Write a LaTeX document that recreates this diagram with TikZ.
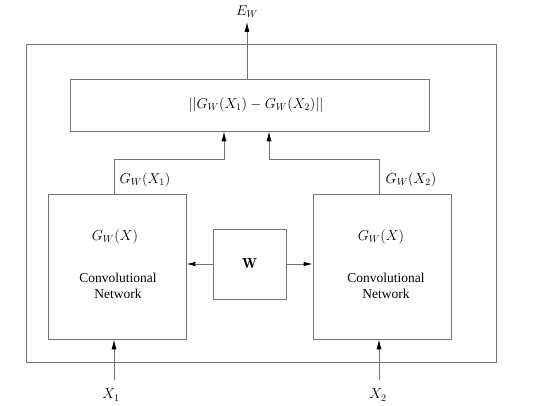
\documentclass[tikz,border=0pt]{standalone}
\usepackage{fontspec}
\newfontfamily\txtfont{Liberation Serif}
\usetikzlibrary{arrows.meta}
\begin{document}
\begin{tikzpicture}[x=1pt,y=-1pt,
  box/.style={draw=black!55,line width=0.8pt,inner sep=0pt},
  conn/.style={draw=black!55,line width=0.8pt},
  arr/.style={conn,-{Latex[length=10pt,width=5pt,color=black]}},
  mth/.style={inner sep=0pt,font=\fontsize{14.5}{17}\selectfont},
  txt/.style={inner sep=0pt,align=center,font=\txtfont\fontsize{13.5}{16.5}\selectfont}]
\useasboundingbox (0,0) rectangle (546,406);
\node[box,minimum width=470pt,minimum height=318pt] (outer) at (261,203) {};
\node[box,minimum width=359pt,minimum height=52pt] (top) at (249.5,105) {};
\node[mth] (topt) at (256,105) {$||G_W(X_1)-G_W(X_2)||$};
\node[box,minimum width=138pt,minimum height=145pt] (lconv) at (117,266.5) {};
\node[box,minimum width=138pt,minimum height=145pt] (rconv) at (382,266.5) {};
\node[box,minimum width=73pt,minimum height=70pt] (wbox) at (249.5,264) {};
\node[mth] (wt) at (249.5,264) {$\mathbf{W}$};
\node[mth] (lg) at (115,237) {$G_W(X)$};
\node[mth] (rg) at (381,237) {$G_W(X)$};
\node[txt] (lt) at (118,286) {Convolutional\\Network};
\node[txt] (rt) at (386,286) {Convolutional\\ Network};
\node[mth] (ew) at (247,12) {$E_W$};
\node[mth] (g1) at (145,180) {$G_W(X_1)$};
\node[mth] (g2) at (411,180) {$G_W(X_2)$};
\node[mth] (x1) at (111,395) {$X_1$};
\node[mth] (x2) at (378,395) {$X_2$};
\coordinate (ewend) at (247,22);
\coordinate (x1s) at (114,380);
\coordinate (x2s) at (379,380);
\draw[arr] (top.north -| ewend) -- (ewend);
\draw[arr] (lconv.north -| x1s) -- ++(0,-34) -| ([xshift=-25.5pt]top.south);
\draw[arr] (rconv.north -| x2s) -- ++(0,-34) -| ([xshift=19.5pt]top.south);
\draw[arr,-{Latex[length=9pt,width=4.5pt,color=black]}] (wbox.west) -- (lconv.east |- wbox.west);
\draw[arr,-{Latex[length=9pt,width=4.5pt,color=black]}] (wbox.east) -- (rconv.west |- wbox.east);
\draw[arr] (x1s) -- (lconv.south -| x1s);
\draw[arr] (x2s) -- (rconv.south -| x2s);
\end{tikzpicture}
\end{document}
